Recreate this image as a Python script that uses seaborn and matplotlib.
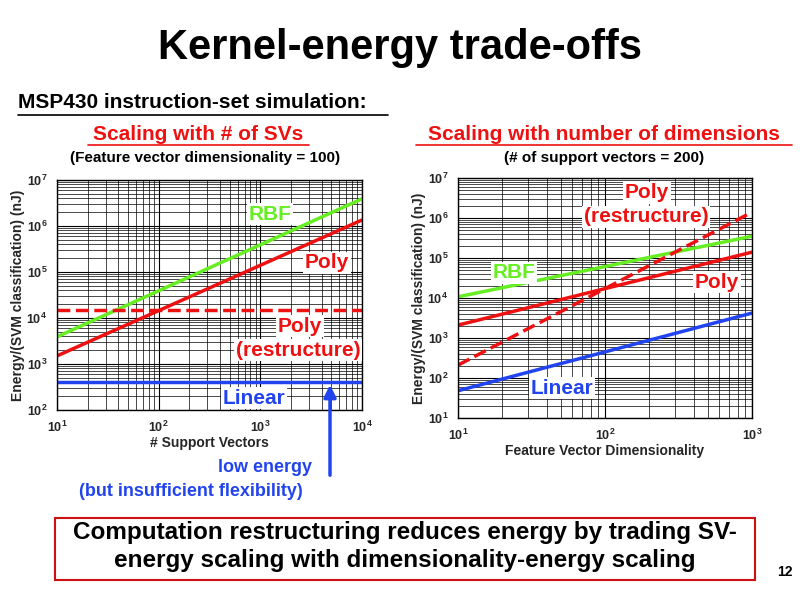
import matplotlib
matplotlib.use("Agg")
import matplotlib.pyplot as plt
import seaborn as sns
import numpy as np
from matplotlib.patches import Rectangle

sns.set_theme(style="white")
plt.rcParams['font.family'] = ['Liberation Sans', 'DejaVu Sans']
plt.rcParams['font.weight'] = 'bold'

# Left: scaling with # of SVs
sv_x = [10, 10000]
sv_rbf = [3.9e3, 3.9e6]
sv_poly = [1.5e3, 1.35e6]
sv_poly_restr = [1.5e4, 1.5e4]
sv_linear = [400, 400]

# Right: scaling with dimensions
dim_x = [10, 1000]
dim_rbf = [1.07e4, 3.5e5]
dim_poly = [2.1e3, 1.4e5]
dim_poly_restr = [210, 1.4e6]
dim_linear = [48, 4.2e3]

GREEN, RED, BLUE = '#66ee22', '#ee1111', '#2244ee'

fig = plt.figure(figsize=(8, 5.99), dpi=100)
W, H = 800, 599
def ax_at(x0, y0, x1, y1):
    return fig.add_axes([x0 / W, 1 - y1 / H, (x1 - x0) / W, (y1 - y0) / H])

def style(ax, xlim, ylim):
    ax.set_xscale('log'); ax.set_yscale('log')
    ax.set_xlim(*xlim); ax.set_ylim(*ylim)
    ax.grid(True, which='major', color='black', lw=0.8)
    ax.grid(True, which='minor', color='black', lw=0.5)
    for s in ax.spines.values():
        s.set_color('black'); s.set_linewidth(1)
    ax.tick_params(labelsize=9, pad=1)
    for lab in ax.get_xticklabels() + ax.get_yticklabels():
        lab.set_fontweight('bold')

axL = ax_at(57, 180, 362, 410)
sns.lineplot(x=sv_x, y=sv_rbf, ax=axL, color=GREEN, lw=2.5)
sns.lineplot(x=sv_x, y=sv_poly, ax=axL, color=RED, lw=2.5)
sns.lineplot(x=sv_x, y=sv_poly_restr, ax=axL, color=RED, lw=2.5, linestyle='--')
sns.lineplot(x=sv_x, y=sv_linear, ax=axL, color=BLUE, lw=2.5)
style(axL, (10, 1e4), (1e2, 1e7))
axL.set_xlabel('# Support Vectors', fontsize=10, fontweight='bold', labelpad=1)
axL.set_ylabel('Energy/(SVM classification) (nJ)', fontsize=10, fontweight='bold', labelpad=1)

axR = ax_at(458, 178, 752, 418)
sns.lineplot(x=dim_x, y=dim_rbf, ax=axR, color=GREEN, lw=2.5)
sns.lineplot(x=dim_x, y=dim_poly, ax=axR, color=RED, lw=2.5)
sns.lineplot(x=dim_x, y=dim_poly_restr, ax=axR, color=RED, lw=2.5, linestyle='--')
sns.lineplot(x=dim_x, y=dim_linear, ax=axR, color=BLUE, lw=2.5)
style(axR, (10, 1e3), (1e1, 1e7))
axR.set_xlabel('Feature Vector Dimensionality', fontsize=10, fontweight='bold', labelpad=1)
axR.set_ylabel('Energy/(SVM classification) (nJ)', fontsize=10, fontweight='bold', labelpad=1)

def t(x, y, s, size, color='black', ha='center', bg=False):
    kw = dict(fontsize=size, color=color, ha=ha, va='center', fontweight='bold')
    if bg:
        kw['bbox'] = dict(facecolor='white', edgecolor='none', pad=1)
    fig.text(x / W, 1 - y / H, s, **kw)

t(400, 48, 'Kernel-energy trade-offs', 30)
t(18, 103, 'MSP430 instruction-set simulation:', 15, ha='left')
fig.lines.append(plt.Line2D([18 / W, 388 / W], [1 - 115 / H] * 2, color='black', lw=1.2, transform=fig.transFigure))
t(198, 134, 'Scaling with # of SVs', 15, RED)
fig.lines.append(plt.Line2D([88 / W, 309 / W], [1 - 145 / H] * 2, color=RED, lw=1.2, transform=fig.transFigure))
t(205, 158, '(Feature vector dimensionality = 100)', 11)
t(604, 134, 'Scaling with number of dimensions', 15, RED)
fig.lines.append(plt.Line2D([416 / W, 792 / W], [1 - 145 / H] * 2, color=RED, lw=1.2, transform=fig.transFigure))
t(604, 158, '(# of support vectors = 200)', 11)

t(270, 214, 'RBF', 15, GREEN, bg=True)
t(327, 263, 'Poly', 15, RED, bg=True)
t(300, 326, 'Poly', 15, RED, bg=True)
t(298, 350, '(restructure)', 15, RED, bg=True)
t(254, 398, 'Linear', 15, BLUE, bg=True)
t(647, 193, 'Poly', 15, RED, bg=True)
t(646, 217, '(restructure)', 15, RED, bg=True)
t(514, 273, 'RBF', 15, GREEN, bg=True)
t(717, 282, 'Poly', 15, RED, bg=True)
t(562, 388, 'Linear', 15, BLUE, bg=True)

t(265, 467, 'low energy', 13, BLUE)
t(191, 492, '(but insufficient flexibility)', 13, BLUE)
fig.patches.append(matplotlib.patches.FancyArrowPatch((330 / W, 1 - 478 / H), (330 / W, 1 - 382 / H),
    transform=fig.transFigure, arrowstyle='-|>', mutation_scale=18, color=BLUE, lw=2.5))

fig.patches.append(Rectangle((55 / W, 1 - 580 / H), 700 / W, 62 / H, transform=fig.transFigure,
                             facecolor='white', edgecolor='#cc1111', lw=1.5))
t(405, 533, 'Computation restructuring reduces energy by trading SV-', 17.5)
t(405, 561, 'energy scaling with dimensionality-energy scaling', 17.5)
t(785, 572, '12', 10)

fig.savefig('out.png', dpi=100, facecolor='white')
